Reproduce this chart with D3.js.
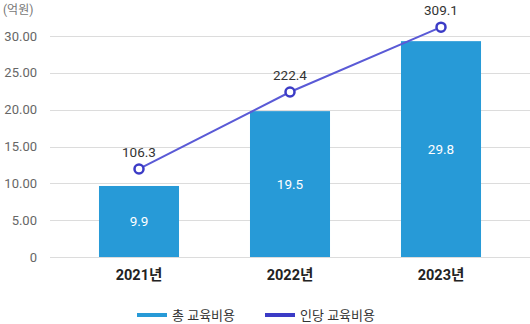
<!DOCTYPE html>
<html>
<head>
<meta charset="utf-8">
<script src="https://cdn.jsdelivr.net/npm/d3@7"></script>
<style>
  body { margin: 0; background: #fff; }
  svg { font-family: Roboto, "Noto Sans CJK KR", sans-serif; }
</style>
</head>
<body>
<svg class="chart"></svg>
<script>
// data
var years = ["2021년", "2022년", "2023년"];
var totalCost = [9.64, 19.8, 29.3];            // bar heights (억원)
var totalLabels = ["9.9", "19.5", "29.8"];
var perPerson = [11.95, 22.4, 31.2];            // line positions on the same axis
var perPersonLabels = ["106.3", "222.4", "309.1"];
var yTicks = [0, 5, 10, 15, 20, 25, 30];
var legendNames = ["총 교육비용", "인당 교육비용"];

var width = 530, height = 324;
var barColor = "#279ad7", lineColor = "#5a5ad6", dotColor = "#3b3bc6";

var svg = d3.select(".chart").attr("width", width).attr("height", height);

var x = d3.scaleBand().domain(years).range([63.5, 516.5]).paddingInner(0.47).paddingOuter(0.235);
var y = d3.scaleLinear().domain([0, 30]).range([257, 36]);

// grid + y labels
var yAxis = svg.append("g");
yAxis.selectAll("line")
  .data(yTicks)
  .join("line")
  .attr("x1", 50).attr("x2", width)
  .attr("y1", function(d) { return Math.round(y(d)) + 0.5; })
  .attr("y2", function(d) { return Math.round(y(d)) + 0.5; })
  .attr("stroke", "#dcdcdc");
yAxis.selectAll("text")
  .data(yTicks)
  .join("text")
  .attr("x", 37)
  .attr("y", function(d) { return y(d); })
  .attr("dy", "0.35em")
  .attr("text-anchor", "end")
  .attr("fill", "#666")
  .style("font-size", "13px")
  .text(function(d) { return d === 0 ? "0" : d3.format(".2f")(d); });

svg.append("text")
  .attr("x", 3).attr("y", 10).attr("dy", "0.35em")
  .attr("fill", "#777").style("font-size", "12px")
  .text("(억원)");

// bars
var bars = svg.append("g");
bars.selectAll("rect")
  .data(totalCost)
  .join("rect")
  .attr("x", function(d, i) { return x(years[i]); })
  .attr("width", x.bandwidth())
  .attr("y", function(d) { return y(d); })
  .attr("height", function(d) { return y(0) - y(d); })
  .attr("fill", barColor);
bars.selectAll("text")
  .data(totalCost)
  .join("text")
  .attr("x", function(d, i) { return x(years[i]) + x.bandwidth() / 2; })
  .attr("y", function(d) { return (y(d) + y(0)) / 2; })
  .attr("dy", "0.35em")
  .attr("text-anchor", "middle")
  .attr("fill", "#fff")
  .style("font-size", "13.5px")
  .text(function(d, i) { return totalLabels[i]; });

// x labels
svg.append("g").selectAll("text")
  .data(years)
  .join("text")
  .attr("x", function(d) { return x(d) + x.bandwidth() / 2; })
  .attr("y", 275)
  .attr("dy", "0.35em")
  .attr("text-anchor", "middle")
  .attr("fill", "#222")
  .style("font-size", "14.5px")
  .style("font-weight", "bold")
  .text(function(d) { return d; });

// line
var cx = function(d, i) { return x(years[i]) + x.bandwidth() / 2; };
var line = d3.line().x(cx).y(function(d) { return y(d); });
svg.append("path")
  .datum(perPerson)
  .attr("d", line)
  .attr("fill", "none")
  .attr("stroke", lineColor)
  .attr("stroke-width", 2);
svg.append("g").selectAll("circle")
  .data(perPerson)
  .join("circle")
  .attr("cx", cx)
  .attr("cy", function(d) { return y(d); })
  .attr("r", 4.5)
  .attr("fill", "#fff")
  .attr("stroke", dotColor)
  .attr("stroke-width", 2.5);
svg.append("g").selectAll("text")
  .data(perPerson)
  .join("text")
  .attr("x", cx)
  .attr("y", function(d) { return y(d) - 17; })
  .attr("dy", "0.35em")
  .attr("text-anchor", "middle")
  .attr("fill", "#333")
  .style("font-size", "13.5px")
  .text(function(d, i) { return perPersonLabels[i]; });

// legend
var legendX = [137, 265];
var legendColors = [barColor, dotColor];
var legend = svg.append("g").selectAll("g")
  .data(legendNames)
  .join("g")
  .attr("transform", function(d, i) { return "translate(" + legendX[i] + ",315)"; });
legend.append("rect")
  .attr("x", 0).attr("y", -2).attr("width", 30).attr("height", 4)
  .attr("fill", function(d, i) { return legendColors[i]; });
legend.append("text")
  .attr("x", 35).attr("dy", "0.35em")
  .attr("fill", "#333")
  .style("font-size", "13px")
  .text(function(d) { return d; });
</script>
</body>
</html>
